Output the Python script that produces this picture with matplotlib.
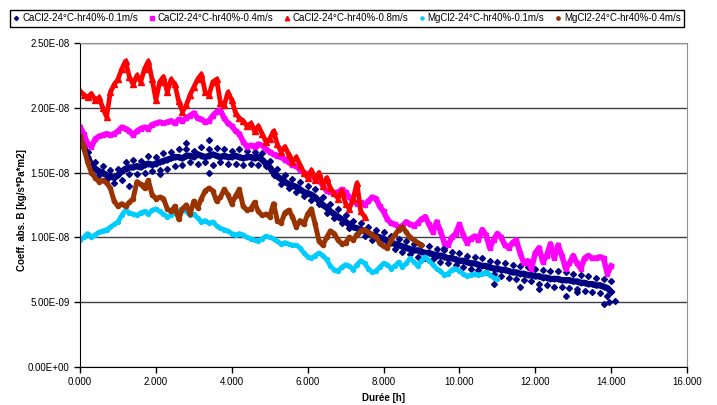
import numpy as np
import matplotlib
matplotlib.use('Agg')
import matplotlib.pyplot as plt
from matplotlib.ticker import FuncFormatter

plt.rcParams['font.family'] = ['Liberation Sans', 'DejaVu Sans']

# values, unit 1E-08, one value every 0.1 h starting at 0 h
labels = ['CaCl2-24°C-hr40%-0.1m/s', 'CaCl2-24°C-hr40%-0.4m/s', 'CaCl2-24°C-hr40%-0.8m/s',
          'MgCl2-24°C-hr40%-0.1m/s', 'MgCl2-24°C-hr40%-0.4m/s']

ca01 = [1.78, 1.70, 1.62, 1.56, 1.53, 1.51, 1.50, 1.48, 1.47, 1.46,
        1.48, 1.51, 1.53, 1.54, 1.54, 1.55, 1.54, 1.56, 1.57, 1.56,
        1.57, 1.58, 1.59, 1.60, 1.61, 1.62, 1.62, 1.61, 1.63, 1.63,
        1.62, 1.64, 1.63, 1.62, 1.63, 1.64, 1.63, 1.62, 1.63, 1.62,
        1.62, 1.63, 1.62, 1.61, 1.62, 1.62, 1.61, 1.62, 1.60, 1.57,
        1.54, 1.50, 1.47, 1.45, 1.43, 1.41, 1.40, 1.39, 1.37, 1.35,
        1.34, 1.33, 1.31, 1.28, 1.25, 1.23, 1.20, 1.18, 1.16, 1.14,
        1.12, 1.10, 1.08, 1.07, 1.06, 1.05, 1.03, 1.02, 1.01, 1.00,
        0.99, 0.97, 0.96, 0.95, 0.94, 0.93, 0.92, 0.91, 0.90, 0.90,
        0.89, 0.88, 0.88, 0.87, 0.86, 0.86, 0.85, 0.84, 0.84, 0.83,
        0.82, 0.82, 0.81, 0.80, 0.80, 0.79, 0.78, 0.78, 0.77, 0.76,
        0.76, 0.75, 0.75, 0.74, 0.73, 0.73, 0.72, 0.72, 0.71, 0.71,
        0.70, 0.70, 0.69, 0.69, 0.68, 0.68, 0.68, 0.67, 0.67, 0.67,
        0.66, 0.66, 0.65, 0.65, 0.64, 0.64, 0.63, 0.63, 0.62, 0.61,
        0.58]
# upper / lower edge of the scattered navy band, every 0.2 h
ca01_hi = [1.80, 1.66, 1.58, 1.55, 1.52, 1.53, 1.58, 1.60, 1.59, 1.63,
           1.62, 1.65, 1.66, 1.68, 1.68, 1.67, 1.70, 1.68, 1.69, 1.68,
           1.67, 1.68, 1.67, 1.66, 1.65, 1.59, 1.53, 1.48, 1.45, 1.43,
           1.40, 1.37, 1.31, 1.26, 1.22, 1.17, 1.13, 1.11, 1.08, 1.06,
           1.04, 1.01, 0.99, 0.97, 0.95, 0.94, 0.93, 0.91, 0.90, 0.89,
           0.88, 0.86, 0.85, 0.84, 0.82, 0.81, 0.80, 0.79, 0.78, 0.77,
           0.76, 0.75, 0.74, 0.74, 0.73, 0.72, 0.71, 0.70, 0.69, 0.68,
           0.66]
ca01_lo = [1.74, 1.57, 1.48, 1.45, 1.42, 1.44, 1.49, 1.49, 1.50, 1.51,
           1.52, 1.53, 1.55, 1.56, 1.58, 1.57, 1.58, 1.56, 1.58, 1.57,
           1.57, 1.56, 1.57, 1.56, 1.55, 1.48, 1.41, 1.38, 1.35, 1.32,
           1.29, 1.26, 1.19, 1.15, 1.11, 1.07, 1.03, 1.01, 0.98, 0.96,
           0.94, 0.91, 0.89, 0.87, 0.85, 0.84, 0.83, 0.81, 0.80, 0.79,
           0.77, 0.76, 0.75, 0.73, 0.72, 0.70, 0.69, 0.68, 0.67, 0.66,
           0.64, 0.63, 0.62, 0.62, 0.61, 0.60, 0.59, 0.58, 0.57, 0.55,
           0.51]
ca01_out_t = [1.3, 2.1, 2.8, 3.4, 3.4, 4.6, 9.6, 10.9, 11.6, 12.1, 12.8, 13.1, 13.8, 13.95]
ca01_out_v = [1.40, 1.49, 1.73, 1.75, 1.50, 1.70, 0.92, 0.64, 0.62, 0.60, 0.55, 0.58, 0.49, 0.50]

ca04 = [1.85, 1.80, 1.72, 1.70, 1.76, 1.78, 1.79, 1.80, 1.79, 1.80,
        1.82, 1.85, 1.84, 1.82, 1.79, 1.82, 1.84, 1.85, 1.84, 1.87,
        1.88, 1.89, 1.88, 1.89, 1.90, 1.88, 1.91, 1.90, 1.92, 1.94,
        1.96, 1.92, 1.91, 1.89, 1.90, 1.94, 1.97, 1.98, 1.92, 1.88,
        1.86, 1.82, 1.80, 1.74, 1.70, 1.71, 1.70, 1.72, 1.71, 1.68,
        1.66, 1.64, 1.63, 1.62, 1.60, 1.58, 1.56, 1.55, 1.52, 1.50,
        1.49, 1.47, 1.46, 1.44, 1.40, 1.36, 1.35, 1.34, 1.35, 1.37,
        1.35, 1.31, 1.28, 1.26, 1.27, 1.25, 1.28, 1.31, 1.30, 1.24,
        1.20, 1.14, 1.11, 1.10, 1.08, 1.09, 1.12, 1.10, 1.09, 1.11,
        1.14, 1.16, 1.10, 1.04, 1.12, 1.05, 0.96, 0.94, 1.00, 1.03,
        1.10, 1.02, 0.96, 0.99, 1.01, 0.98, 1.06, 1.02, 0.92, 0.98,
        1.03, 1.00, 0.94, 0.92, 0.96, 0.98, 0.88, 0.80, 0.82, 0.76,
        0.88, 0.92, 0.81, 0.86, 0.95, 0.84, 0.94, 0.86, 0.76, 0.80,
        0.86, 0.80, 0.76, 0.84, 0.86, 0.84, 0.84, 0.85, 0.84, 0.72,
        0.78]

ca08 = [2.13, 2.10, 2.08, 2.11, 2.06, 2.08, 2.00, 1.93, 2.12, 2.18,
        2.22, 2.30, 2.36, 2.24, 2.18, 2.25, 2.20, 2.30, 2.36, 2.22,
        2.06, 2.20, 2.24, 2.12, 2.22, 2.18, 2.05, 1.97, 2.02, 2.10,
        2.16, 2.22, 2.26, 2.12, 2.10, 2.20, 2.22, 2.04, 2.02, 2.12,
        2.06, 1.96, 1.92, 1.90, 1.86, 1.88, 1.82, 1.86, 1.80, 1.74,
        1.76, 1.82, 1.72, 1.66, 1.70, 1.64, 1.58, 1.62, 1.56, 1.50,
        1.46, 1.52, 1.44, 1.50, 1.40, 1.46, 1.38, 1.34, 1.30, 1.36,
        1.26, 1.22, 1.30, 1.42, 1.20, 1.16]

mg01 = [0.98, 1.00, 1.03, 1.00, 1.02, 1.04, 1.05, 1.06, 1.08, 1.10,
        1.12, 1.17, 1.21, 1.19, 1.18, 1.17, 1.19, 1.20, 1.18, 1.21,
        1.22, 1.20, 1.18, 1.16, 1.17, 1.19, 1.21, 1.22, 1.20, 1.17,
        1.18, 1.15, 1.12, 1.13, 1.11, 1.12, 1.09, 1.07, 1.06, 1.05,
        1.03, 1.02, 1.03, 1.02, 1.00, 0.99, 0.98, 0.97, 0.99, 1.01,
        1.00, 0.99, 0.97, 0.95, 0.96, 0.95, 0.94, 0.94, 0.92, 0.88,
        0.85, 0.84, 0.86, 0.88, 0.86, 0.83, 0.78, 0.75, 0.74, 0.77,
        0.79, 0.78, 0.75, 0.79, 0.82, 0.80, 0.76, 0.73, 0.74, 0.77,
        0.80, 0.79, 0.76, 0.78, 0.81, 0.77, 0.80, 0.84, 0.81, 0.78,
        0.82, 0.85, 0.82, 0.79, 0.76, 0.74, 0.71, 0.72, 0.75, 0.76,
        0.74, 0.72, 0.70, 0.71, 0.72, 0.71, 0.72, 0.73, 0.71, 0.69,
        0.68]

mg04 = [1.78, 1.70, 1.58, 1.50, 1.46, 1.43, 1.44, 1.42, 1.38, 1.28,
        1.24, 1.26, 1.24, 1.27, 1.30, 1.43, 1.41, 1.38, 1.44, 1.33,
        1.30, 1.31, 1.30, 1.22, 1.20, 1.24, 1.14, 1.22, 1.25, 1.18,
        1.28, 1.23, 1.30, 1.36, 1.38, 1.36, 1.28, 1.31, 1.37, 1.33,
        1.26, 1.32, 1.37, 1.24, 1.21, 1.22, 1.27, 1.20, 1.17, 1.18,
        1.16, 1.26, 1.13, 1.11, 1.19, 1.21, 1.16, 1.08, 1.13, 1.10,
        1.18, 1.22, 1.10, 0.97, 0.94, 1.00, 1.05, 1.03, 0.98, 0.95,
        0.96, 1.00, 0.98, 1.02, 1.05, 1.06, 1.04, 1.02, 1.00, 0.96,
        0.93, 0.92, 0.98, 1.02, 1.06, 1.08, 1.04, 1.00, 0.98, 0.96,
        0.94]

dt = 0.1
colors = ['#000080', '#FF00FF', '#FF0000', '#00CCFF', '#993300']
markers = ['D', 's', '^', 'o', 'o']
msizes = [2.6, 3.2, 4.0, 2.8, 3.0]
lws = [4.5, 4.0, 3.4, 3.4, 3.6]
series = [ca01, ca04, ca08, mg01, mg04]

fig = plt.figure(figsize=(7.17, 4.05), dpi=100)
ax = fig.add_axes([0.1116, 0.0938, 0.8466, 0.8000])

for i in range(5):
    v = np.array(series[i]) * 1e-8
    t = np.arange(len(v)) * dt
    ax.plot(t, v, '-', color=colors[i], lw=lws[i], label='_nolegend_')
    ax.plot(t, v, linestyle='none', marker=markers[i], ms=msizes[i],
            color=colors[i], mec=colors[i], label=labels[i])
    if i == 0:
        # scattered points around the navy band
        t2 = np.arange(len(ca01_hi)) * 0.2
        ax.plot(t2, np.array(ca01_hi) * 1e-8, linestyle='none', marker='D', ms=3, color=colors[0])
        ax.plot(t2 + 0.1, np.array(ca01_lo) * 1e-8, linestyle='none', marker='D', ms=3, color=colors[0])
        ax.plot(ca01_out_t, np.array(ca01_out_v) * 1e-8, linestyle='none', marker='D', ms=3, color=colors[0])

ax.set_xlim(0, 16)
ax.set_ylim(0, 2.5e-8)
ax.set_xticks(np.arange(0, 17, 2))
ax.set_yticks(np.arange(0, 2.6e-8, 0.5e-8))
ax.xaxis.set_major_formatter(FuncFormatter(lambda x, p: '%.3f' % x))
ax.yaxis.set_major_formatter(FuncFormatter(lambda y, p: '%.2E' % y))
ax.tick_params(labelsize=7, length=4, width=1, direction='out', colors='black')
ax.yaxis.grid(True, color='#404040', lw=1)
ax.set_axisbelow(True)
for s in ['top', 'right']:
    ax.spines[s].set_color('#909090')
ax.set_ylabel('Coeff. abs. B [kg/s*Pa*m2]', fontsize=7, fontweight='bold')
ax.yaxis.set_label_coords(-0.088, 0.485)
ax.set_xlabel('Durée [h]', fontsize=7, fontweight='bold', labelpad=4)

h, l = ax.get_legend_handles_labels()
leg = fig.legend(h, l, loc='center', bbox_to_anchor=(0.484, 0.955), ncol=5, fontsize=7,
                 handlelength=0.6, handletextpad=0.3, columnspacing=1.1, borderpad=0.35,
                 fancybox=False, edgecolor='black', framealpha=1, markerscale=0.8)
leg.get_frame().set_linewidth(1)

fig.savefig('out.png', dpi=100)
